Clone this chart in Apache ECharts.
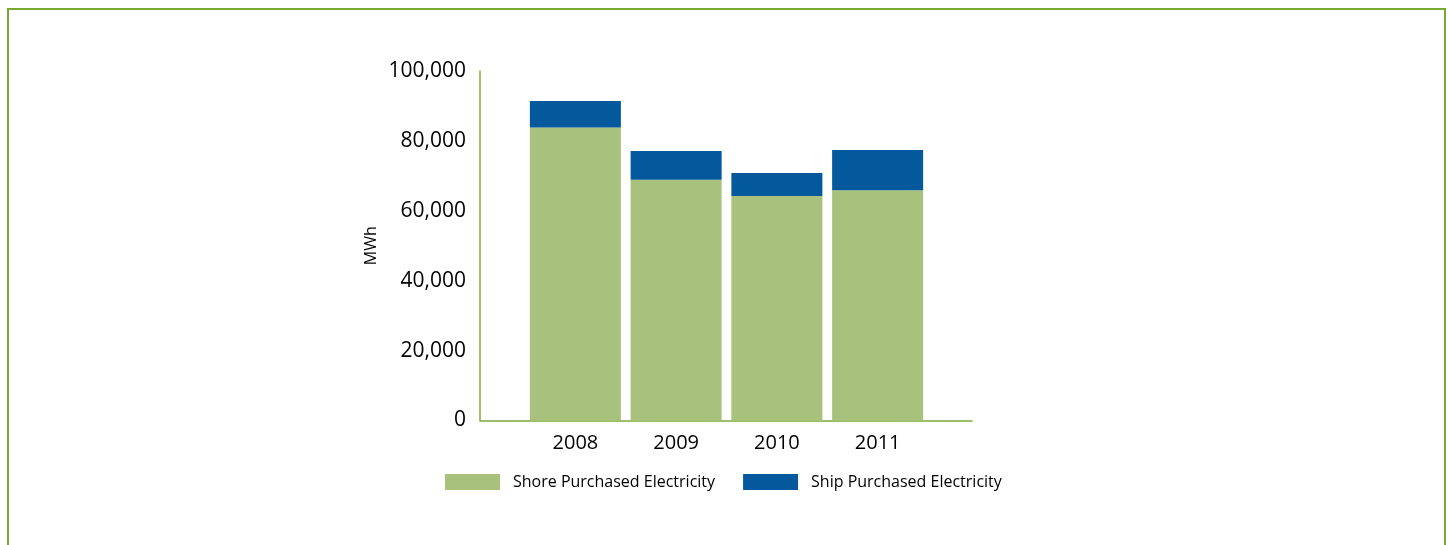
<!DOCTYPE html>
<html>
<head>
<meta charset="utf-8">
<script src="https://cdn.jsdelivr.net/npm/echarts@6/dist/echarts.min.js"></script>
<style>
  html, body { margin: 0; padding: 0; background: #fff; overflow: hidden; }
  #frame {
    position: absolute; left: 7px; top: 8px; width: 1439px; height: 600px;
    border: 2px solid #77a933; box-sizing: border-box;
  }
  #chart { position: absolute; left: 0; top: 0; width: 1450px; height: 545px; }
</style>
</head>
<body>
<div id="frame"></div>
<div id="chart"></div>
<script>
// values (MWh)
const years = ['2008', '2009', '2010', '2011']
const shore = [83800, 68900, 64200, 65900]
const ship = [7600, 8200, 6600, 11500]
const yTicks = { min: 0, max: 100000, interval: 20000 }

const GREEN = '#a8c17c'
const BLUE = '#03599c'
const AXIS = '#7dab3c'
const FONT = '"Open Sans", "Liberation Sans", sans-serif'

const chart = echarts.init(document.getElementById('chart'))

chart.setOption({
  backgroundColor: 'transparent',
  animation: false,
  textStyle: { fontFamily: FONT, color: '#000' },
  // grid 0 carries the axes lines, grid 1 the bars
  grid: [
    { left: 480, top: 71, width: 492, bottom: 124.5 },
    { left: 525, top: 71, width: 403, bottom: 124.5 },
  ],
  legend: {
    left: 445, top: 474, padding: 0,
    icon: 'rect', itemWidth: 55, itemHeight: 16, itemGap: 28,
    textStyle: { fontFamily: FONT, fontSize: 16, color: '#000', padding: [3, 0, 0, 8] },
    data: ['Shore Purchased Electricity', 'Ship Purchased Electricity'],
  },
  xAxis: [
    {
      gridIndex: 0, type: 'value', min: 0, max: 1,
      axisLine: { show: true, lineStyle: { color: AXIS, width: 1.5 } },
      axisTick: { show: false }, axisLabel: { show: false }, splitLine: { show: false },
    },
    {
      gridIndex: 1, type: 'category', data: years,
      axisLine: { show: false }, axisTick: { show: false },
      axisLabel: { fontFamily: FONT, fontSize: 20, color: '#000', margin: 13 },
    },
  ],
  yAxis: [
    {
      gridIndex: 0, type: 'value', ...yTicks,
      name: 'MWh', nameLocation: 'middle', nameGap: 101, nameRotate: 90,
      nameTextStyle: { fontFamily: FONT, fontSize: 16, color: '#000' },
      axisLine: { show: true, lineStyle: { color: AXIS, width: 1.5 } },
      axisTick: { show: false },
      axisLabel: {
        fontFamily: FONT, fontSize: 21, color: '#000', margin: 14,
        formatter: v => v.toLocaleString('en-US'),
      },
      splitLine: { show: false },
    },
    {
      gridIndex: 1, type: 'value', ...yTicks, show: false, splitLine: { show: false },
    },
  ],
  series: [
    {
      name: 'Shore Purchased Electricity', type: 'bar', stack: 'total',
      xAxisIndex: 1, yAxisIndex: 1, barWidth: 91,
      itemStyle: { color: GREEN }, data: shore,
    },
    {
      name: 'Ship Purchased Electricity', type: 'bar', stack: 'total',
      xAxisIndex: 1, yAxisIndex: 1, barWidth: 91,
      itemStyle: { color: BLUE }, data: ship,
    },
  ],
})
</script>
</body>
</html>
